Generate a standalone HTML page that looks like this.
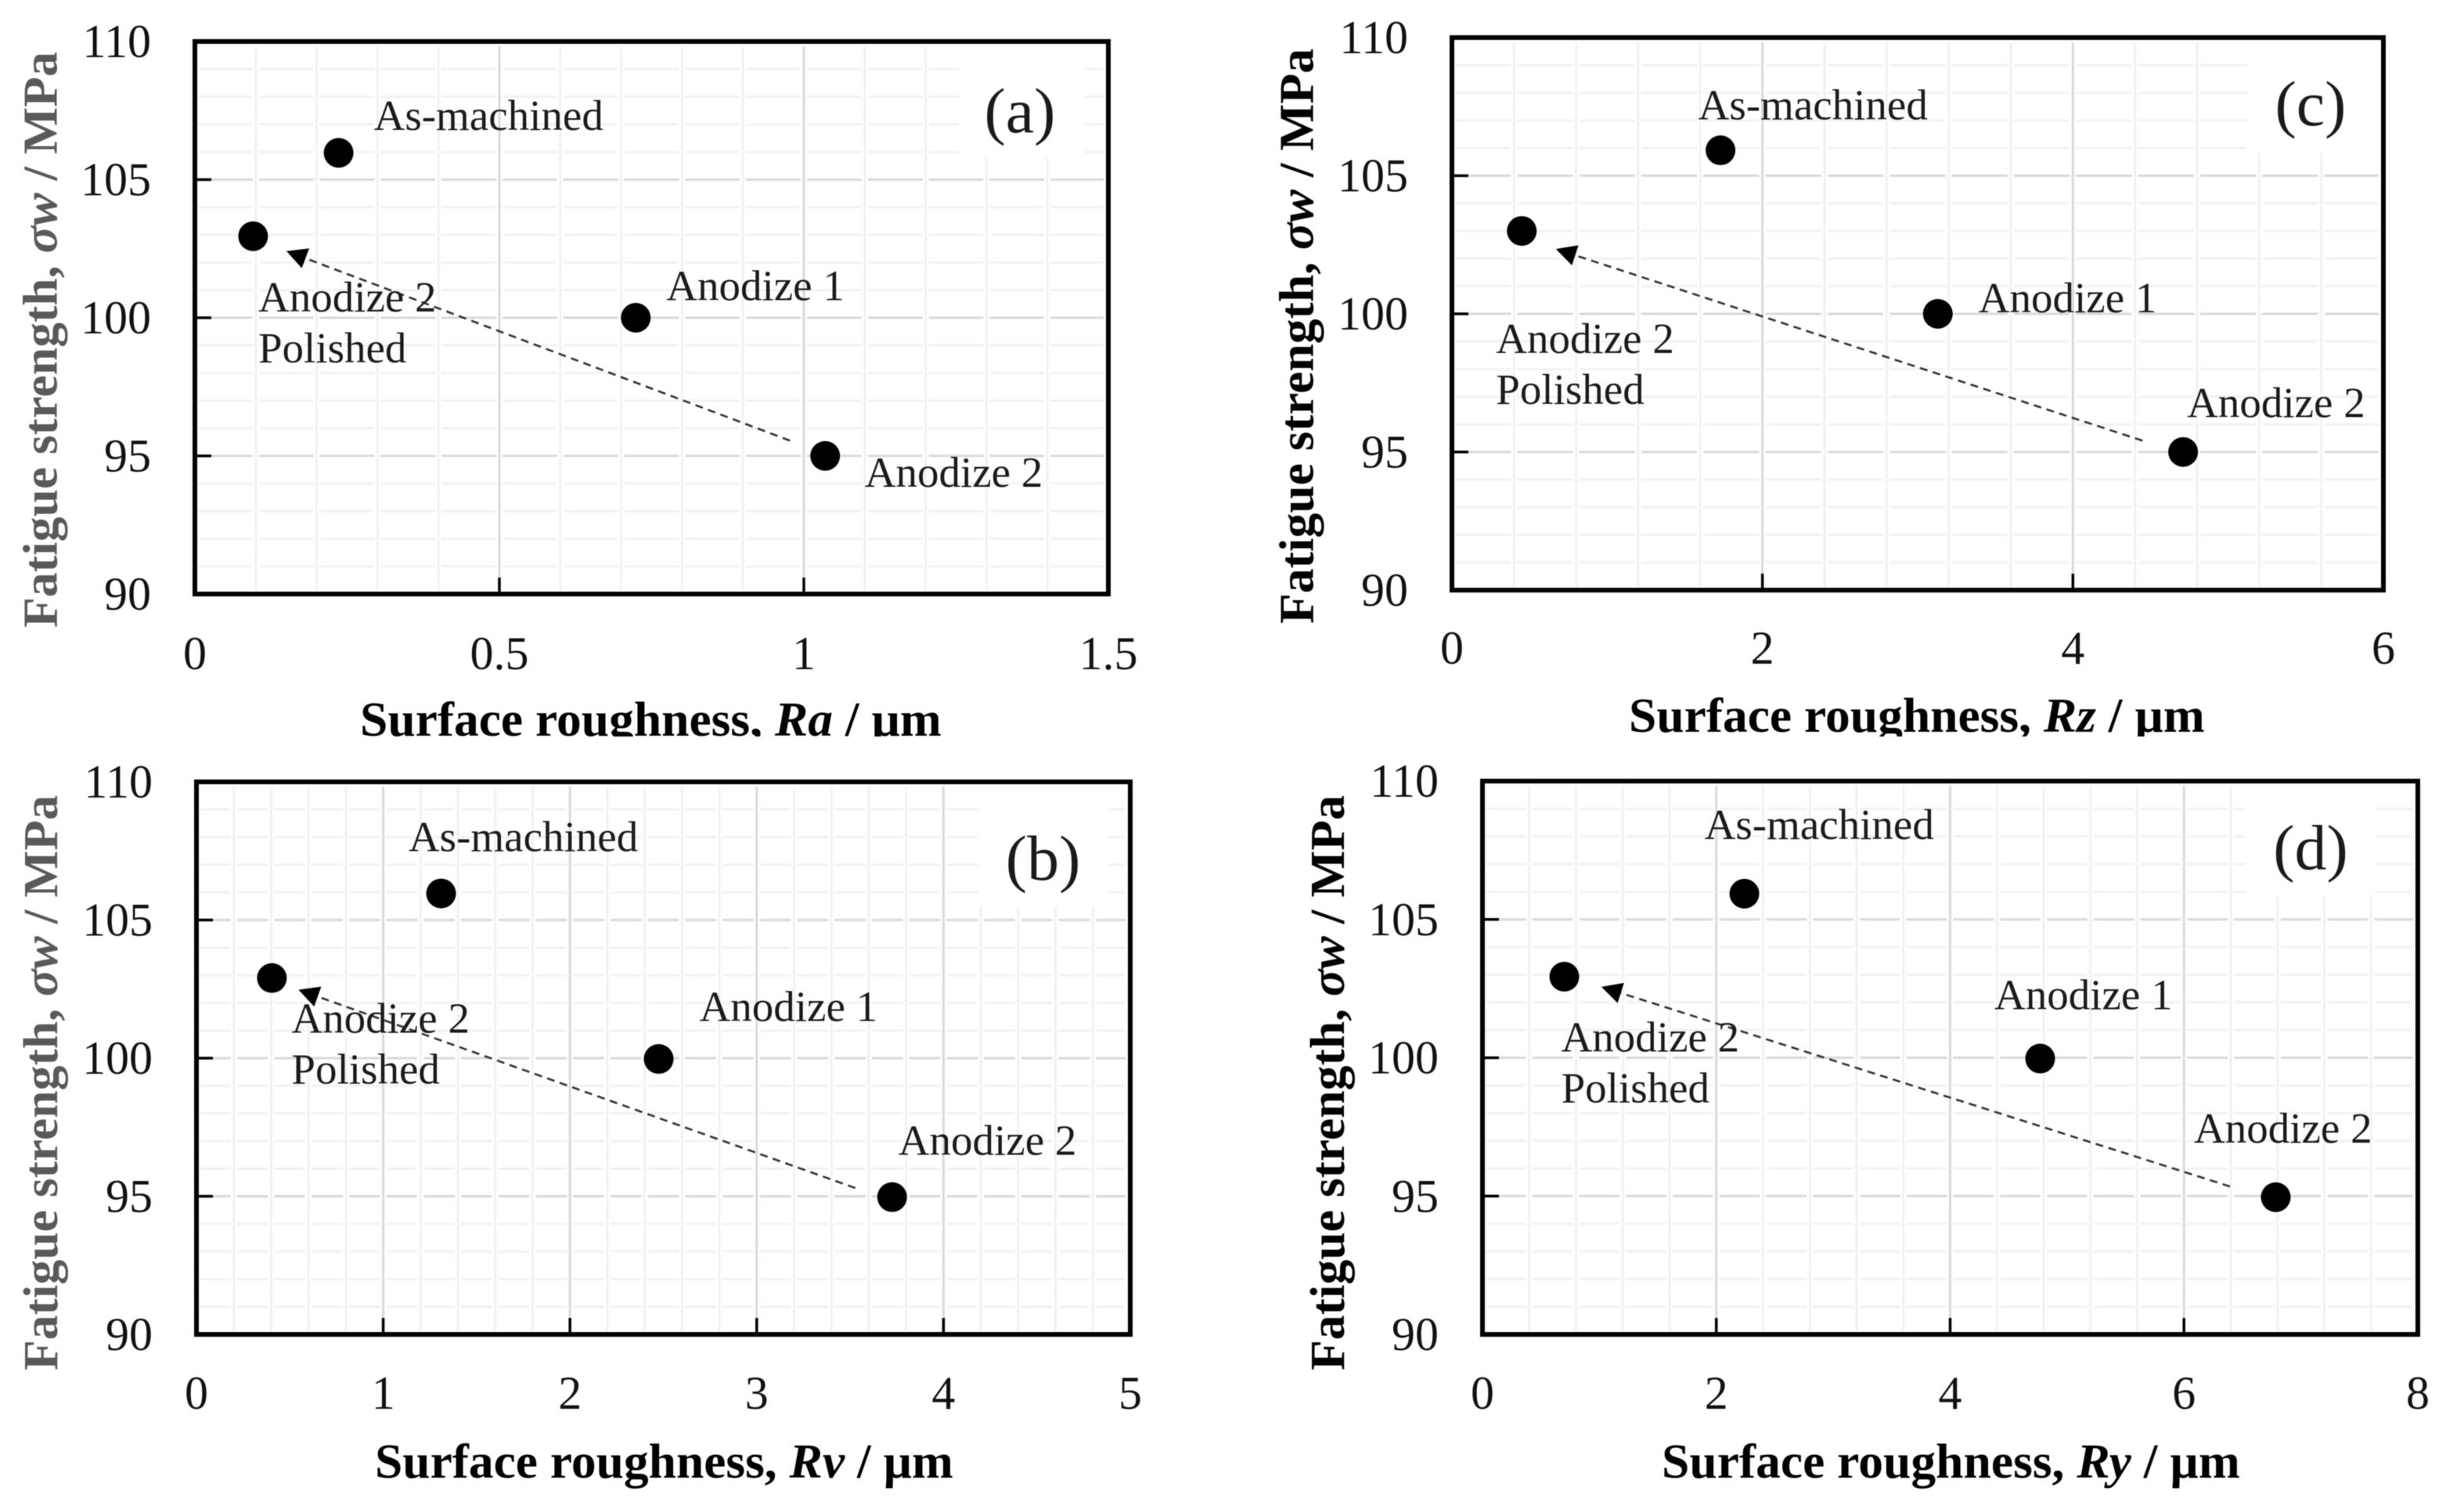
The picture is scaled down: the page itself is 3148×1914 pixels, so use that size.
<!DOCTYPE html>
<html lang="en">
<head>
<meta charset="utf-8">
<title>Fatigue strength versus surface roughness</title>
<style>
html,body{margin:0;padding:0;background:#fff;}
#stage{display:block;width:3148px;height:1914px;filter:blur(0.6px);}
text{font-family:"Liberation Serif","DejaVu Serif",serif;}
</style>
</head>
<body>
<svg id="stage" xmlns="http://www.w3.org/2000/svg" width="3148" height="1914" viewBox="0 0 3148 1914"></svg>
<script>
const conditionLabels = ['As-machined', 'Anodize 1', 'Anodize 2', 'Anodize 2'];
const yTickValues = [90, 95, 100, 105, 110];
const yTickLabels = ['90', '95', '100', '105', '110'];

const roughnessRa = [0.236, 0.724, 1.035, 0.0956];
const sigmaRa = [105.97, 100, 95, 102.95];
const xTickValuesRa = [0, 0.5, 1, 1.5];
const xTickLabelsRa = ['0', '0.5', '1', '1.5'];

const roughnessRv = [1.31, 2.475, 3.725, 0.404];
const sigmaRv = [105.96, 99.97, 94.97, 102.9];
const xTickValuesRv = [0, 1, 2, 3, 4, 5];
const xTickLabelsRv = ['0', '1', '2', '3', '4', '5'];

const roughnessRz = [1.73, 3.13, 4.71, 0.45];
const sigmaRz = [105.92, 100, 95, 103];
const xTickValuesRz = [0, 2, 4, 6];
const xTickLabelsRz = ['0', '2', '4', '6'];

const roughnessRy = [2.24, 4.77, 6.785, 0.7];
const sigmaRy = [105.93, 99.97, 94.96, 102.93];
const xTickValuesRy = [0, 2, 4, 6, 8];
const xTickLabelsRy = ['0', '2', '4', '6', '8'];

const panels = [
  {id:'a', tag:'(a)', x:roughnessRa, y:sigmaRa, xt:xTickValuesRa, xl:xTickLabelsRa, minor:0.1,
   box:[249,1416,53,759], tickDy:96,
   xTitle:['Surface roughness, ','Ra',' / µm'], xTitleBox:[460,1203,940], clipY:941,
   yColor:'#595959', yTitleBox:[72.7,802,66],
   offs:[[47,-29.5],[41,-22.5],[52.5,39.5],[8.6,96]],
   tail:[-45,-19.5], tip:[42.6,19],
   tagPos:[1303,169], mask:[1225,1386,58,202]},
  {id:'c', tag:'(c)', x:roughnessRz, y:sigmaRz, xt:xTickValuesRz, xl:xTickLabelsRz, minor:0.4,
   box:[1855,3045,48,754], tickDy:94,
   xTitle:['Surface roughness, ','Rz',' / µm'], xTitleBox:[2081,2817,935], clipY:941,
   yColor:'#000000', yTitleBox:[1677.5,797,62],
   offs:[[-26.5,-39.6],[54,-2],[7,-44.5],[-31,156]],
   tail:[-52,-14.5], tip:[43.5,23],
   tagPos:[2952,160], mask:[2871,3040,53,196]},
  {id:'b', tag:'(b)', x:roughnessRv, y:sigmaRv, xt:xTickValuesRv, xl:xTickLabelsRv, minor:0.2,
   box:[251,1444,999,1705], tickDy:95,
   xTitle:['Surface roughness, ','Rv',' / µm'], xTitleBox:[479,1218,1888], clipY:0,
   yColor:'#595959', yTitleBox:[73,1751,1016],
   offs:[[-39.6,-54],[54,-48.5],[10,-54.3],[27,70]],
   tail:[-47,-11.6], tip:[34,15],
   tagPos:[1332.6,1124], mask:[1250,1416,1004,1159]},
  {id:'d', tag:'(d)', x:roughnessRy, y:sigmaRy, xt:xTickValuesRy, xl:xTickLabelsRy, minor:0.4,
   box:[1894,3089,998,1705], tickDy:95,
   xTitle:['Surface roughness, ','Ry',' / µm'], xTitleBox:[2123,2862,1888], clipY:0,
   yColor:'#000000', yTitleBox:[1717,1751,1016],
   offs:[[-49,-69.7],[-56.5,-63.3],[-102.5,-69.7],[-2,95.7]],
   tail:[-58.5,-13.7], tip:[47.4,13],
   tagPos:[2952,1110.6], mask:[2869,3035,1003,1144]}
];

const NS = 'http://www.w3.org/2000/svg';
const stage = document.getElementById('stage');

function make(parent, tag, props) {
  const el = document.createElementNS(NS, tag);
  for (const k in props) { el.setAttribute(k, props[k]); }
  parent.appendChild(el);
  return el;
}

function scaledTitle(parent, segments, size, fill, tx, ty, rotate, targetLength, name) {
  const t = make(parent, 'text', {x:0, y:0, 'font-size':size, 'font-weight':'bold', fill:fill});
  
  
  segments.forEach(function (seg, i) {
    const s = make(t, 'tspan', {'font-style': i === 1 ? 'italic' : 'normal'});
    
    
    s.textContent = seg;
  });
  const k = targetLength / t.getComputedTextLength();
  t.setAttribute('transform', 'translate(' + tx + ' ' + ty + ') rotate(' + rotate + ') scale(' + k + ' 1)');
  return t;
}

panels.forEach(function (p) {
  const x0 = p.box[0], x1 = p.box[1], yTop = p.box[2], yBot = p.box[3];
  const xMax = p.xt[p.xt.length - 1];
  const yMin = yTickValues[0], yMax = yTickValues[yTickValues.length - 1];
  const sx = function (v) { return x0 + (v / xMax) * (x1 - x0); };
  const sy = function (v) { return yTop + ((yMax - v) / (yMax - yMin)) * (yBot - yTop); };

  const g = make(stage, 'g', {});
  
  

  const grid = make(g, 'g', {});
  
  

  for (let v = yMin; v <= yMax; v++) {
    if (v === yMin || v === yMax) continue;
    const major = yTickValues.indexOf(v) >= 0;
    const l = make(grid, 'line', {x1:x0 + 4, x2:x1 - 6, y1:sy(v), y2:sy(v), stroke: major ? '#d9d9d9' : '#f2f2f2', 'stroke-width':3});
    
    
  }
  const nX = Math.round(xMax / p.minor);
  for (let i = 1; i < nX; i++) {
    const h = make(grid, 'line', {x1:sx(i * p.minor), x2:sx(i * p.minor), y1:yTop + 4, y2:yBot - 4, stroke:'#ffffff', 'stroke-width':8});
    
    
  }
  for (let i = 1; i < nX; i++) {
    const val = i * p.minor;
    const major = p.xt.some(function (t) { return Math.abs(t - val) < 1e-6; });
    const l = make(grid, 'line', {x1:sx(val), x2:sx(val), y1:yTop + 6, y2:yBot - 4, stroke: major ? '#d9d9d9' : '#f2f2f2', 'stroke-width':3});
    
    
  }

  const mask = make(g, 'rect', {x:p.mask[0], y:p.mask[2], width:p.mask[1] - p.mask[0], height:p.mask[3] - p.mask[2], fill:'#ffffff'});
  
  

  yTickValues.forEach(function (v, i) {
    const tick = make(g, 'line', {x1:x0, x2:x0 + 21, y1:sy(v), y2:sy(v), stroke:'#000', 'stroke-width':3.5});
    
    
    const lab = make(g, 'text', {x:x0 - 56, y:sy(v) + 20, 'font-size':60, 'text-anchor':'end', fill:'#111'});
    
    
    lab.textContent = yTickLabels[i];
  });

  p.xt.forEach(function (v, i) {
    const tick = make(g, 'line', {x1:sx(v), x2:sx(v), y1:yBot, y2:yBot - 21, stroke:'#000', 'stroke-width':3.5});
    
    
    const lab = make(g, 'text', {x:sx(v), y:yBot + p.tickDy, 'font-size':60, 'text-anchor':'middle', fill:'#111'});
    
    
    lab.textContent = p.xl[i];
  });

  const frame = make(g, 'rect', {x:x0, y:yTop, width:x1 - x0, height:yBot - yTop, fill:'none', stroke:'#000', 'stroke-width':6});
  
  

  const ax = sx(p.x[2]) + p.tail[0], ay = sy(p.y[2]) + p.tail[1];
  const bx = sx(p.x[3]) + p.tip[0], by = sy(p.y[3]) + p.tip[1];
  const len = Math.hypot(ax - bx, ay - by);
  const ux = (ax - bx) / len, uy = (ay - by) / len;
  const baseX = bx + ux * 26, baseY = by + uy * 26;
  const shaft = make(g, 'line', {x1:ax, y1:ay, x2:baseX, y2:baseY, stroke:'#333', 'stroke-width':2.6, 'stroke-dasharray':'10 7'});
  
  
  const head = make(g, 'polygon', {
    points: bx + ',' + by + ' ' + (baseX - uy * 13.5) + ',' + (baseY + ux * 13.5) + ' ' + (baseX + uy * 13.5) + ',' + (baseY - ux * 13.5),
    fill:'#000'
  });
  
  

  p.x.forEach(function (v, i) {
    const c = make(g, 'circle', {cx:sx(v), cy:sy(p.y[i]), r:19, fill:'#000'});
    
    
    const t = make(g, 'text', {x:sx(v) + p.offs[i][0] - 2, y:sy(p.y[i]) + p.offs[i][1], 'font-size':55, fill:'#1a1a1a'});
    
    
    t.textContent = conditionLabels[i];
    if (i === 3) {
      const t2 = make(g, 'text', {x:sx(v) + p.offs[i][0] - 2, y:sy(p.y[i]) + p.offs[i][1] + 65, 'font-size':55, fill:'#1a1a1a'});
      
      
      t2.textContent = 'Polished';
    }
  });

  const tag = make(g, 'text', {x:p.tagPos[0], y:p.tagPos[1], 'font-size':82, 'text-anchor':'middle', fill:'#1a1a1a'});
  
  
  tag.textContent = p.tag;

  scaledTitle(g, p.xTitle, 62, '#000', p.xTitleBox[0], p.xTitleBox[2], 0, p.xTitleBox[1] - p.xTitleBox[0], 'x-axis-title');
  if (p.clipY) {
    const cut = make(g, 'rect', {x:p.xTitleBox[0] - 20, y:p.clipY, width:p.xTitleBox[1] - p.xTitleBox[0] + 40, height:20, fill:'#ffffff'});
    
    
  }
  scaledTitle(g, ['Fatigue strength, ', 'σw', ' / MPa'], 62, p.yColor, p.yTitleBox[0], p.yTitleBox[1], -90, p.yTitleBox[1] - p.yTitleBox[2], 'y-axis-title');
});
</script>
</body>
</html>
